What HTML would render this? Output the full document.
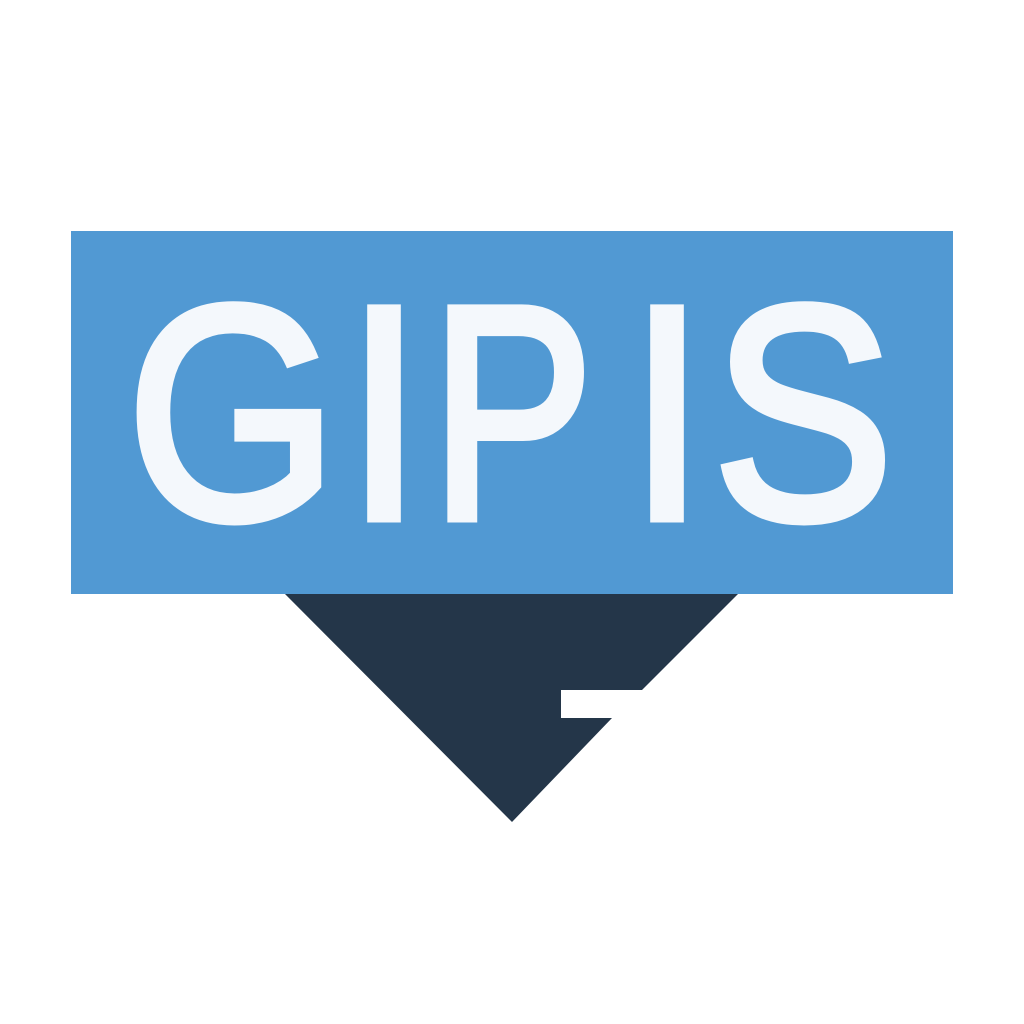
<!DOCTYPE html>
<html>
<head>
<meta charset="utf-8">
<style>
html,body{margin:0;padding:0;background:#fff;}
svg{display:block;}
</style>
</head>
<body>
<svg width="1024" height="1024" viewBox="0 0 1024 1024">
  <rect x="0" y="0" width="1024" height="1024" fill="#ffffff"/>
  <polygon points="285,594 738,594 642,690 561,690 561,718 612,718 512,822" fill="#243649"/>
  <rect x="71" y="231" width="882" height="363" fill="#5199d3"/>
  <g fill="#f4f8fc" stroke="#f4f8fc" stroke-width="9" stroke-linejoin="miter" font-family="'Liberation Sans', Arial, sans-serif" font-size="304">
    <text transform="translate(127,518) scale(0.89,1)">G</text>
    <text transform="translate(346,518) scale(0.9,1)">I</text>
    <text transform="translate(431,518) scale(0.8,1)">P</text>
    <text transform="translate(629,518) scale(0.9,1)">I</text>
    <text transform="translate(713,518) scale(0.89,1)">S</text>
  </g>
</svg>
</body>
</html>
